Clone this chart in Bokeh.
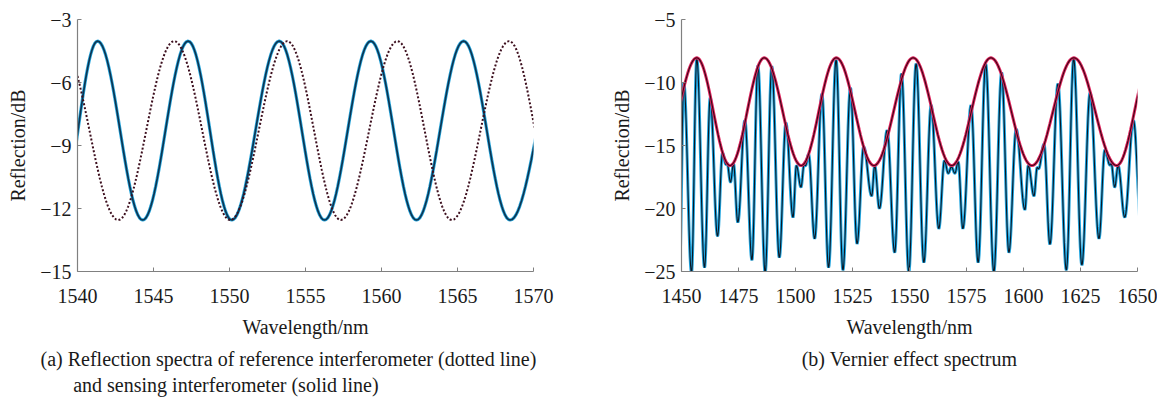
import numpy as np
from bokeh.plotting import figure
from bokeh.layouts import row
from bokeh.models import Range1d, FixedTicker, Title
from bokeh.embed import file_html
from bokeh.resources import INLINE

# ---------------- data ----------------
# Panel (a): extrema of each fringe train (wavelength nm, reflection dB).
# First/last knots lie just beyond the axis so the edge values match the picture.
sens_wl = [1538.74, 1541.32, 1544.29, 1547.28, 1550.15, 1553.27, 1556.25,
           1559.30, 1562.30, 1565.40, 1568.46, 1572.00]
sens_db = [-12.55, -4.03, -12.55, -4.03, -12.55, -4.03, -12.55,
           -4.03, -12.55, -4.03, -12.55, -4.03]

ref_wl = [1538.90, 1542.68, 1546.36, 1550.05, 1553.80, 1557.32,
          1561.05, 1564.63, 1568.40, 1571.80]
ref_db = [-4.03, -12.55, -4.03, -12.55, -4.03, -12.55,
          -4.03, -12.55, -4.03, -12.55]

# Panel (b): extrema of the Vernier spectrum and of its upper envelope.
vern_wl = [1449.13, 1451.0, 1454.4, 1456.7, 1460.1, 1462.6, 1465.8, 1468.0,
           1469.5, 1470.0, 1471.5, 1472.8, 1474.7, 1477.8, 1480.9, 1483.5,
           1486.7, 1489.6, 1492.9, 1495.8, 1498.9, 1500.4, 1502.4, 1503.8,
           1504.4, 1505.75, 1508.4, 1511.6, 1514.5, 1517.8, 1520.8, 1524.1,
           1527.0, 1529.9, 1533.4, 1534.75, 1536.8, 1540.2, 1543.5, 1546.5,
           1549.7, 1552.9, 1556.3, 1559.5, 1562.85, 1565.35, 1567.0, 1568.4,
           1569.9, 1571.35, 1573.4, 1577.0, 1580.1, 1583.4, 1587.0, 1590.4,
           1593.6, 1596.8, 1600.6, 1602.1, 1604.6, 1606.0, 1606.6, 1609.0,
           1611.6, 1615.1, 1618.8, 1622.0, 1625.6, 1629.2, 1633.1, 1635.7,
           1637.9, 1638.5, 1640.0, 1641.5, 1644.4, 1648.2, 1651.8]
vern_db = [-25.0, -10.0, -25.1, -8.1, -24.7, -11.2, -22.2, -15.6,
           -16.5, -16.4, -17.9, -16.45, -21.1, -13.0, -24.1, -8.65,
           -25.1, -8.7, -23.9, -13.2, -20.7, -16.6, -18.3, -16.5,
           -16.6, -15.7, -22.4, -10.9, -24.7, -8.2, -24.9, -10.4,
           -22.8, -15.1, -19.0, -16.6, -20.0, -13.8, -23.5, -9.3,
           -25.05, -8.5, -24.3, -11.8, -21.6, -16.2, -17.2, -16.7,
           -17.2, -16.3, -21.6, -11.8, -24.3, -8.5, -25.05, -9.2,
           -23.5, -13.7, -20.1, -16.6, -19.0, -16.75, -16.85, -14.9,
           -22.85, -10.1, -24.9, -8.1, -24.5, -10.8, -22.4, -15.35,
           -16.55, -16.45, -18.3, -16.6, -20.7, -13.0, -22.0]

env_wl = [1440.6, 1456.7, 1471.3, 1486.3, 1502.5, 1517.9, 1534.4,
          1551.6, 1568.5, 1585.7, 1603.7, 1622.1, 1640.9, 1656.4]
env_db = [-16.59, -8.04, -16.59, -8.04, -16.59, -8.04, -16.59,
          -8.04, -16.59, -8.04, -16.59, -8.04, -16.59, -8.04]

a_xticks = [1540, 1545, 1550, 1555, 1560, 1565, 1570]
a_yticks = [-15, -12, -9, -6, -3]
b_xticks = [1450, 1475, 1500, 1525, 1550, 1575, 1600, 1625, 1650]
b_yticks = [-25, -20, -15, -10, -5]

cap_a1 = "(a) Reflection spectra of reference interferometer (dotted line)"
cap_a2 = "and sensing interferometer (solid line)"
cap_b = "(b) Vernier effect spectrum"
xlab = "Wavelength/nm"
ylab = "Reflection/dB"

FONT = "Liberation Serif"
FS = "20px"
TXT = "#1a1a1a"
AX = "#808080"


def smooth(kx, ky, n=28):
    """Draw a smooth fringe through consecutive extrema (half-cosine strokes)."""
    xs, ys = [], []
    t = np.linspace(0.0, 1.0, n, endpoint=False)
    s = (1.0 - np.cos(np.pi * t)) / 2.0
    for i in range(len(kx) - 1):
        xs.extend(kx[i] + (kx[i + 1] - kx[i]) * t)
        ys.extend(ky[i] + (ky[i + 1] - ky[i]) * s)
    xs.append(kx[-1])
    ys.append(ky[-1])
    return xs, ys


def style(p, xt, yt):
    p.outline_line_color = None
    p.grid.visible = False
    for ax in (p.xaxis[0], p.yaxis[0]):
        ax.axis_line_color = AX
        ax.axis_line_width = 1.2
        ax.major_tick_line_color = AX
        ax.major_tick_in = 4
        ax.major_tick_out = 0
        ax.minor_tick_line_color = None
        ax.major_label_text_font = FONT
        ax.major_label_text_font_size = FS
        ax.major_label_text_color = TXT
        ax.axis_label_text_font = FONT
        ax.axis_label_text_font_size = FS
        ax.axis_label_text_font_style = "normal"
        ax.axis_label_text_color = TXT
    p.xaxis[0].ticker = FixedTicker(ticks=xt)
    p.yaxis[0].ticker = FixedTicker(ticks=yt)
    p.yaxis[0].major_label_overrides = {v: "\u2212" + str(abs(v)) for v in yt}
    p.xaxis[0].major_label_standoff = 17
    p.yaxis[0].major_label_standoff = 6
    p.xaxis[0].axis_label_standoff = 10
    p.yaxis[0].axis_label_standoff = 8
    p.xaxis[0].axis_label = xlab
    p.yaxis[0].axis_label = ylab


def caption(p, text, offset, standoff, align="left"):
    p.add_layout(Title(text=text, align=align, offset=offset, standoff=standoff,
                       text_font=FONT, text_font_size=FS, text_color=TXT,
                       text_font_style="normal"), "below")


TOP = 19
BOT = 126
# ---------------- panel (a) ----------------
pa = figure(frame_width=456, frame_height=252, min_border_left=77, min_border_right=45,
            min_border_top=TOP, min_border_bottom=BOT,
            x_range=Range1d(1540, 1570), y_range=Range1d(-15, -3),
            output_backend="svg", toolbar_location=None)
style(pa, a_xticks, a_yticks)
sx, sy = smooth(sens_wl, sens_db)
rx, ry = smooth(ref_wl, ref_db)
pa.line(sx, sy, line_color="#2aa9df", line_width=3.2)
pa.line(sx, sy, line_color="#0c3654", line_width=1.7)
pa.line(rx, ry, line_color="#3d0f1e", line_width=2.0, line_dash="2 2")
caption(pa, cap_a1, -37, 11)
caption(pa, cap_a2, -4.3, -7)

# ---------------- panel (b) ----------------
pb = figure(frame_width=456, frame_height=252, min_border_left=103, min_border_right=20,
            min_border_top=TOP, min_border_bottom=BOT,
            x_range=Range1d(1450, 1650), y_range=Range1d(-25, -5),
            output_backend="svg", toolbar_location=None)
style(pb, b_xticks, b_yticks)
vx, vy = smooth(vern_wl, vern_db, n=16)
ex, ey = smooth(env_wl, env_db)
pb.line(vx, vy, line_color="#22a6e0", line_width=3.0)
pb.line(vx, vy, line_color="#0a1826", line_width=1.1)
pb.line(ex, ey, line_color="#e0245e", line_width=3.0)
pb.line(ex, ey, line_color="#3b0716", line_width=1.1)
caption(pb, cap_b, 4.6, 11, align="center")

layout = row(pa, pb)
open("out.html", "w").write(file_html(layout, INLINE))
